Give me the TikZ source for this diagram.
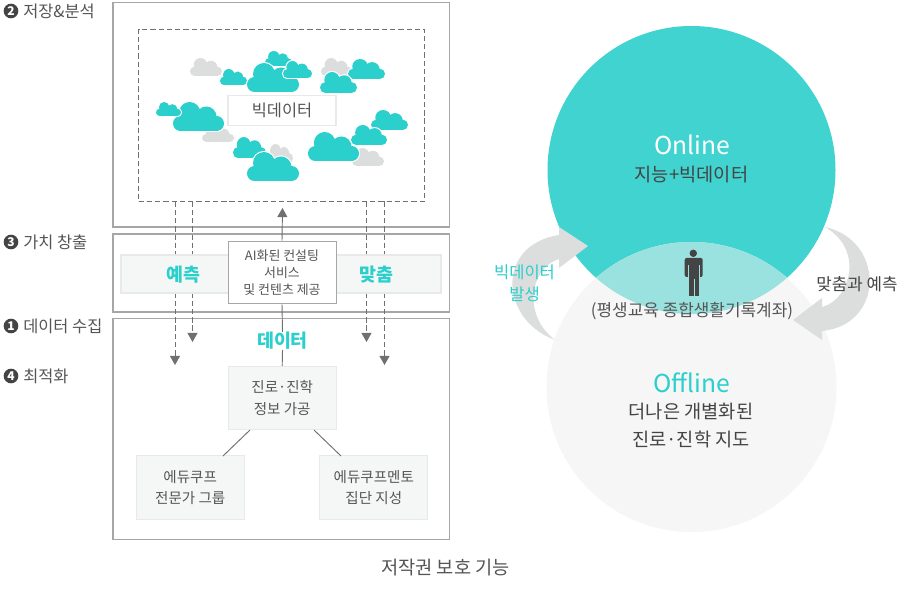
\documentclass[tikz,border=0pt]{standalone}
\usepackage{fontspec}
\setmainfont{Noto Sans CJK KR}
\usetikzlibrary{arrows.meta}
\definecolor{tealc}{HTML}{2BCFCB}
\definecolor{onlinec}{HTML}{40D3CF}
\definecolor{lensc}{HTML}{9AE2DF}
\definecolor{offc}{HTML}{F6F6F6}
\definecolor{grayc}{HTML}{DCDEDD}
\definecolor{panelc}{HTML}{A6A6A6}
\definecolor{txt}{HTML}{555555}
\definecolor{dark}{HTML}{444444}
\definecolor{arrowc}{HTML}{707070}
\definecolor{softbox}{HTML}{F5F7F6}
\definecolor{softline}{HTML}{E8E9E9}
\newcommand\fs[2]{\fontsize{#1}{#2}\selectfont}
\newcommand\cloudshapes[1]{%
  \path[#1] (7.5,7.5) circle (7.5);
  \path[#1] (44.5,7.5) circle (7.5);
  \path[#1] (7.5,0) rectangle (44.5,15);
  \path[#1] (17,18) circle (11);
  \path[#1] (34,14) circle (10.5);
}
\newcommand\cloud[5]{%
  \pgfmathsetmacro\cw{(#3-#1)/52}\pgfmathsetmacro\ch{(#4-#2)/29}%
  \begin{scope}[shift={(#1,#4)},xscale=\cw,yscale=-\ch]
    \cloudshapes{draw=white,line width=1.6pt}
    \cloudshapes{fill=#5}
  \end{scope}
}
\tikzset{
  panel/.style={draw=panelc,line width=0.8pt,fill=white},
  softnode/.style={draw=softline,line width=0.8pt,fill=softbox,minimum width=81pt,minimum height=47.5pt,inner sep=0pt,align=center,text=txt,font=\fs{10.9pt}{15.8pt}},
  whitenode/.style={draw=panelc,line width=0.7pt,fill=white,minimum width=81pt,minimum height=47pt,inner sep=0pt,align=center,text=txt,font=\fs{9.7pt}{12.8pt}},
  dashline/.style={draw=arrowc,line width=0.7pt,dash pattern=on 4pt off 2.2pt},
  headed/.style={-{Triangle[length=6.8pt,width=7.5pt,fill=arrowc]}},
  solidline/.style={draw=arrowc,line width=0.7pt},
  numdot/.style={circle,fill=dark,text=white,inner sep=0pt,minimum size=11pt,font=\bfseries\fs{9pt}{9pt}},
  sidelabel/.style={anchor=west,text=txt,inner sep=0pt,font=\fs{12.3pt}{13pt}},
  tealbold/.style={text=tealc,inner sep=0pt,font=\bfseries\fs{13.8pt}{15pt}},
  bigword/.style={inner sep=0pt,font=\fs{18.5pt}{21pt}},
}
\begin{document}
\begin{tikzpicture}[x=0.75pt,y=-0.75pt]
\useasboundingbox (0,0) rectangle (900,598);
\fill[white] (0,0) rectangle (900,598);
% panels
\draw[panel] (113,2.5) rectangle (449.5,227);
\draw[panel] (113,234) rectangle (449.5,312);
\draw[panel] (113,318.5) rectangle (449.5,539.5);
% dashed store
\node[draw=arrowc,line width=0.7pt,dash pattern=on 4pt off 2.2pt,minimum width=214.5pt,minimum height=129.4pt,inner sep=0pt] (store) at (281.5,115.3) {};
% clouds
\cloud{190}{58}{222}{76}{grayc}
\cloud{321}{58}{352}{76}{grayc}
\cloud{202}{126}{234}{142}{grayc}
\cloud{267}{144}{293}{163}{grayc}
\cloud{352}{148}{384}{166}{grayc}
\cloud{265}{51}{292}{66}{tealc}
\cloud{220}{69}{247}{85}{tealc}
\cloud{247}{63}{299}{92}{tealc}
\cloud{283}{61}{312}{78}{tealc}
\cloud{348}{59}{385}{79}{tealc}
\cloud{320}{72}{357}{93}{tealc}
\cloud{173}{102}{224}{131}{tealc}
\cloud{156}{102}{181}{116}{tealc}
\cloud{371}{110}{408}{130}{tealc}
\cloud{308}{132}{359}{161}{tealc}
\cloud{351}{125}{387}{145}{tealc}
\cloud{233}{137}{266}{158}{tealc}
\cloud{247}{152}{299}{181}{tealc}
\node[draw=softline,line width=0.8pt,fill=white,minimum width=81pt,minimum height=22pt,inner sep=0pt,text=txt,font=\fs{12.3pt}{14pt}] (bigdata) at (282,110.5) {빅데이터};
% dashed arrows
\coordinate (da) at (175,201.5); \coordinate (db) at (192.5,201.5);
\coordinate (dc) at (366.5,201.5); \coordinate (dd) at (384.5,201.5);
\coordinate (ea) at (175,365); \coordinate (eb) at (192.5,342);
\coordinate (ec) at (366.5,342); \coordinate (ed) at (384.5,365);
\draw[dashline,headed] (da) -- (ea);
\draw[dashline,headed] (db) -- (eb);
\draw[dashline,headed] (dc) -- (ec);
\draw[dashline,headed] (dd) -- (ed);
% band
\node[draw=softline,line width=0.8pt,fill=softbox,minimum width=240pt,minimum height=28.5pt,inner sep=0pt] (band) at (281,274) {};
\node[tealbold] (predict) at (183,274.5) {예측};
\node[tealbold] (custom) at (376,274.5) {맞춤};
\node[whitenode] (ai) at (282,272.5) {AI화된 컨설팅\\서비스\\및 컨텐츠 제공};
\coordinate (aiup) at (282.5,208);
\draw[solidline,headed] (ai.north) -- (aiup);
\node[tealbold] (data) at (282.5,341) {데이터};
\node[softnode] (info) at (282.2,398) {진로·진학\\정보 가공};
\node[softnode] (edu) at (190.2,487.5) {에듀쿠프\\전문가 그룹};
\node[softnode] (mento) at (373.8,487.5) {에듀쿠프멘토\\집단 지성};
\draw[solidline] (ai.south) -- (data.north);
\draw[solidline] (data.south) -- (info.north);
\coordinate (il) at (250,430); \coordinate (ir) at (314,430);
\coordinate (el) at (223,456); \coordinate (mr) at (341,456);
\draw[solidline] (il) -- (el);
\draw[solidline] (ir) -- (mr);
% side labels
\node[numdot] (n2) at (11,11) {2}; \node[sidelabel] (l2) at (23,11) {저장\&분석};
\node[numdot] (n3) at (11,242) {3}; \node[sidelabel] (l3) at (23,242) {가치 창출};
\node[numdot] (n1) at (11,326) {1}; \node[sidelabel] (l1) at (23,326) {데이터 수집};
\node[numdot] (n4) at (11,376) {4}; \node[sidelabel] (l4) at (23,376) {최적화};
\node[text=txt,inner sep=0pt,font=\fs{14pt}{16pt}] (caption) at (445.5,568) {저작권 보호 기능};
% venn
\fill[onlinec] (691.5,170) circle (144);
\fill[offc] (691.5,387) circle (145);
\begin{scope}
  \clip (691.5,170) circle (144);
  \fill[lensc] (691.5,387) circle (145);
\end{scope}
% curved arrows
\fill[grayc] (555,340) .. controls (500,320) and (495,245) .. (559,235) -- (559,227) -- (588,246) -- (559,268) -- (559,259) .. controls (530,268) and (522,315) .. (555,340) -- cycle;
\fill[grayc] (825,227) .. controls (885,240) and (885,325) .. (822,331) -- (822,340) -- (793,320) -- (822,298) -- (822,307) .. controls (850,300) and (865,250) .. (825,227) -- cycle;
% person
\fill[dark] (693.3,253.3) circle (3.7);
\fill[dark,rounded corners=1.5pt] (684.7,258) rectangle (702.7,277);
\fill[dark] (689,270) rectangle (698.7,296);
\draw[lensc,line width=0.4pt] (688.6,265) -- (688.6,278) (699.1,265) -- (699.1,278) (693.8,279) -- (693.8,296);
% texts
\node[bigword,text=white] (online) at (692,145) {Online};
\node[text=dark,inner sep=0pt,font=\fs{14pt}{16pt}] (onsub) at (691.5,174.5) {지능+빅데이터};
\node[bigword,text=tealc] (offline) at (692,383) {Offline};
\node[text=dark,inner sep=0pt,align=center,font=\fs{14pt}{20.6pt}] (offsub) at (691,425.5) {더나은 개별화된\\진로·진학 지도};
\node[text=txt,inner sep=0pt,font=\fs{12.7pt}{15pt}] (account) at (692,311.5) {(평생교육 종합생활기록계좌)};
\node[text=tealc,inner sep=0pt,align=center,font=\fs{12.4pt}{16.5pt}] (bd) at (524.5,283.5) {빅데이터\\발생};
\node[text=dark,inner sep=0pt,font=\fs{12.6pt}{15pt}] (mp) at (857,284.5) {맞춤과 예측};
\end{tikzpicture}
\end{document}
